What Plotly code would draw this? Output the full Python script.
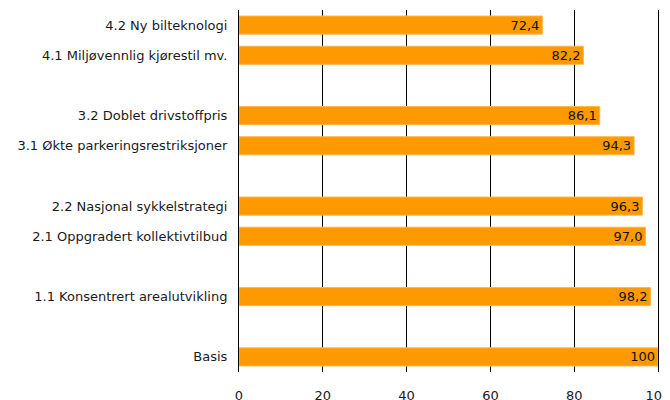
import plotly.graph_objects as go

categories = ["Basis", " ", "1.1 Konsentrert arealutvikling", "  ",
              "2.1 Oppgradert kollektivtilbud", "2.2 Nasjonal sykkelstrategi", "   ",
              "3.1 Økte parkeringsrestriksjoner", "3.2 Doblet drivstoffpris", "    ",
              "4.1 Miljøvennlig kjørestil mv.", "4.2 Ny bilteknologi"]
values = [100, None, 98.2, None, 97.0, 96.3, None, 94.3, 86.1, None, 82.2, 72.4]
labels = ["100", "", "98,2", "", "97,0", "96,3", "", "94,3", "86,1", "", "82,2", "72,4"]
x_ticks = [0, 20, 40, 60, 80, 100]

fig = go.Figure(go.Bar(
    x=values, y=categories, orientation="h",
    marker=dict(color="#FF9900", line=dict(color="#FFB84D", width=1)),
    width=0.6,
    text=labels, textposition="inside", insidetextanchor="end",
    constraintext="none",
    textfont=dict(family="DejaVu Sans", size=13, color="#111111"),
    cliponaxis=False,
))

fig.update_layout(
    width=662, height=392,
    margin=dict(l=231, r=12, t=2, b=28),
    paper_bgcolor="white", plot_bgcolor="white",
    font=dict(family="DejaVu Sans", size=13, color="#1a1a1a"),
    showlegend=False,
    xaxis=dict(range=[0, 100], tickvals=x_ticks, showgrid=True, gridcolor="black",
               gridwidth=1, zeroline=False, showline=False, ticks="",
               ticklabelstandoff=14, ticklabeloverflow="allow", automargin=False),
    yaxis=dict(categoryorder="array", categoryarray=categories, range=[-0.5, 11.5],
               showline=True, mirror=True, linecolor="black", linewidth=1, ticks="",
               showgrid=False, ticklabelstandoff=8, automargin=False),
)

fig.write_html("out.html")
